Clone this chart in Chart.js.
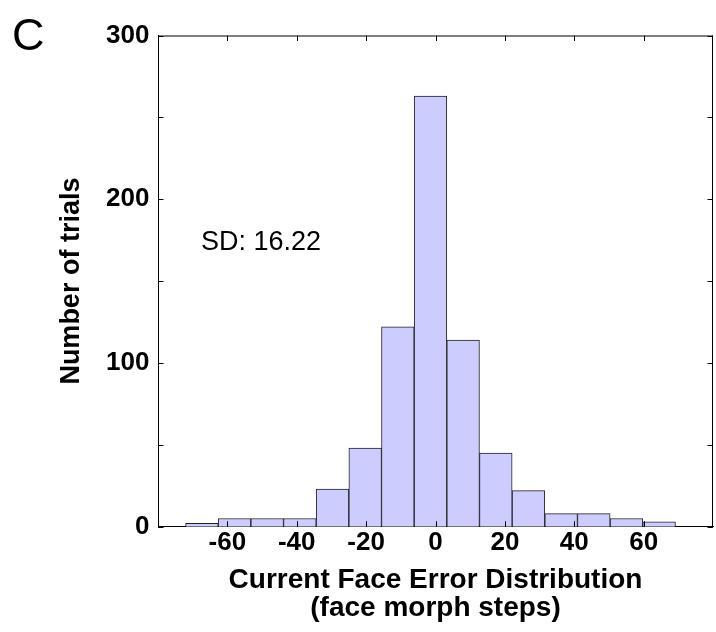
<!DOCTYPE html>
<html>
<head>
<meta charset="utf-8">
<script src="https://cdn.jsdelivr.net/npm/chart.js@4"></script>
<style>
  body { margin: 0; background: #fff; }
  #wrap { width: 716px; height: 632px; }
</style>
</head>
<body>
<div id="wrap"><canvas id="myChart" width="716" height="632"></canvas></div>
<script>
// histogram bins (face morph steps) and counts
const binCenters = [-67.35, -57.94, -48.52, -39.10, -29.69, -20.27, -10.86, -1.44, 7.97, 17.39, 26.80, 36.22, 45.64, 55.05, 64.47];
const trialCounts = [2, 5, 5, 5, 23, 48, 122, 263, 114, 45, 22, 8, 8, 5, 3];

// axis ticks
const xTicks = [-60, -40, -20, 0, 20, 40, 60];
const yTicks = [0, 50, 100, 150, 200, 250, 300];
const yLabels = [0, 100, 200, 300];

const fontFam = '"Liberation Sans", Arial, Helvetica, sans-serif';

// MATLAB style box: inward ticks on all four sides, top line, panel letter, SD note
const boxPlugin = {
    id: 'boxPlugin',
    afterDraw(chart) {
        const ctx = chart.ctx;
        const area = chart.chartArea;
        const xs = chart.scales.x;
        const ys = chart.scales.y;
        const len = 5.5;
        ctx.save();
        ctx.strokeStyle = '#000';
        ctx.lineWidth = 1;
        ctx.beginPath();
        ctx.moveTo(area.left, area.top + 0.5);
        ctx.lineTo(area.right, area.top + 0.5);
        ctx.moveTo(area.right - 0.5, area.top);
        ctx.lineTo(area.right - 0.5, area.bottom);
        yTicks.forEach(function(v) {
            let py = Math.round(ys.getPixelForValue(v)) + 0.5;
            ctx.moveTo(area.left, py);
            ctx.lineTo(area.left + len, py);
            ctx.moveTo(area.right, py);
            ctx.lineTo(area.right - len, py);
        });
        xTicks.forEach(function(v) {
            let px = Math.round(xs.getPixelForValue(v)) + 0.5;
            ctx.moveTo(px, area.top);
            ctx.lineTo(px, area.top + len);
            ctx.moveTo(px, area.bottom);
            ctx.lineTo(px, area.bottom - len);
        });
        ctx.stroke();

        ctx.fillStyle = '#000';
        ctx.textAlign = 'left';
        ctx.textBaseline = 'alphabetic';
        ctx.font = '45px ' + fontFam;
        ctx.fillText('C', 12, 50);
        ctx.font = '27px ' + fontFam;
        ctx.fillText('SD: 16.22', 201, 250);
        ctx.restore();
    }
};

const ctx = document.getElementById('myChart').getContext('2d');
const myChart = new Chart(ctx, {
    type: 'bar',
    data: {
        datasets: [{
            label: 'Trials',
            data: binCenters.map((c, i) => ({ x: c, y: trialCounts[i] })),
            backgroundColor: 'rgb(204, 204, 255)',
            borderColor: '#222',
            borderWidth: 1,
            barPercentage: 1,
            categoryPercentage: 1
        }]
    },
    options: {
        responsive: false,
        animation: false,
        layout: { padding: { top: 35.5, left: 0, right: 0, bottom: 0 } },
        plugins: {
            legend: { display: false },
            tooltip: { enabled: false }
        },
        scales: {
            x: {
                type: 'linear',
                min: -80,
                max: 80,
                offset: false,
                grid: { display: false, drawTicks: false },
                border: { display: true, color: '#000', width: 1 },
                ticks: {
                    stepSize: 20,
                    autoSkip: false,
                    maxRotation: 0,
                    padding: 3,
                    color: '#000',
                    font: { family: fontFam, size: 26, weight: 'bold', lineHeight: 1 },
                    callback: function(v) { return xTicks.includes(v) ? String(v) : ''; }
                },
                title: {
                    display: true,
                    text: ['Current Face Error Distribution', '(face morph steps)'],
                    color: '#000',
                    font: { family: fontFam, size: 28, weight: 'bold', lineHeight: 1 },
                    padding: { top: 0, bottom: 10 }
                },
                afterFit: function(scale) { scale.height = 105.3; }
            },
            y: {
                min: 0,
                max: 300,
                grid: { display: false, drawTicks: false },
                border: { display: true, color: '#000', width: 1 },
                ticks: {
                    stepSize: 50,
                    padding: 8.5,
                    color: '#000',
                    font: { family: fontFam, size: 26, weight: 'bold', lineHeight: 1 },
                    callback: function(v) { return yLabels.includes(v) ? String(v) : ''; }
                },
                title: {
                    display: true,
                    text: 'Number of trials',
                    color: '#000',
                    font: { family: fontFam, size: 27, weight: 'bold', lineHeight: 1 },
                    padding: { top: 58, bottom: 0 }
                },
                afterFit: function(scale) { scale.width = 158; }
            }
        }
    },
    plugins: [boxPlugin]
});
</script>
</body>
</html>
